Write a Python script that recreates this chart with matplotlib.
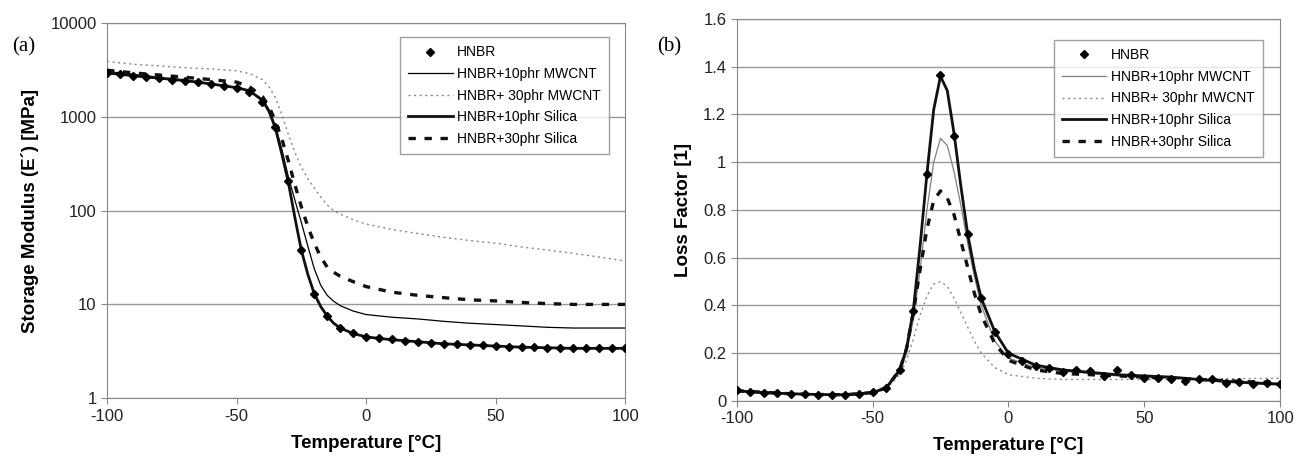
import numpy as np
import matplotlib
matplotlib.use('Agg')
import matplotlib.pyplot as plt
from matplotlib.ticker import FixedLocator, FixedFormatter

plt.rcParams['font.family'] = ['Liberation Sans', 'DejaVu Sans']
plt.rcParams['axes.unicode_minus'] = False

# temperature grids
t_marks = list(range(-100, 101, 5))
t_line = [-100, -90, -80, -70, -60, -50, -45, -40, -37.5, -35, -32.5, -30, -27.5, -25,
          -22.5, -20, -17.5, -15, -12.5, -10, -5, 0, 10, 20, 30, 40, 50, 60, 70, 80, 90, 100]

labels = ['HNBR', 'HNBR+10phr MWCNT', 'HNBR+ 30phr MWCNT', 'HNBR+10phr Silica', 'HNBR+30phr Silica']

# (a) storage modulus [MPa]
e_hnbr = [2950, 2850, 2750, 2650, 2580, 2500, 2420, 2350, 2250, 2150, 2050, 1850, 1450, 780,
          205, 38, 13, 7.5, 5.6, 4.9, 4.5, 4.4, 4.25, 4.1, 4.0, 3.9, 3.8, 3.75, 3.7, 3.7, 3.6,
          3.55, 3.5, 3.5, 3.4, 3.4, 3.4, 3.4, 3.4, 3.4, 3.4]
e_cnt10 = [2900, 2700, 2550, 2400, 2250, 2050, 1900, 1550, 1200, 800, 450, 230, 130, 75, 42, 24,
           16, 12.5, 10.8, 9.7, 8.5, 7.8, 7.3, 7.0, 6.6, 6.3, 6.1, 5.9, 5.7, 5.6, 5.6, 5.6]
e_cnt30 = [3900, 3650, 3500, 3350, 3250, 3100, 2900, 2500, 2100, 1600, 1050, 650, 420, 290, 220,
           175, 140, 115, 100, 92, 80, 72, 63, 57, 52, 48, 45, 41, 38, 35, 32, 29]
e_sil10 = [3000, 2800, 2600, 2450, 2250, 2050, 1900, 1500, 1150, 760, 400, 200, 85, 38, 21, 13,
           9.5, 7.5, 6.3, 5.6, 4.9, 4.5, 4.2, 4.0, 3.8, 3.7, 3.6, 3.5, 3.45, 3.4, 3.4, 3.4]
e_sil30 = [3150, 2950, 2800, 2650, 2500, 2350, 2100, 1650, 1300, 900, 580, 340, 190, 110, 68, 45,
           32, 25, 22, 20, 17.5, 15.5, 13.5, 12.5, 11.8, 11.2, 10.9, 10.5, 10.2, 10, 10, 10]

# (b) loss factor
d_hnbr = [0.046, 0.039, 0.035, 0.033, 0.03, 0.028, 0.026, 0.025, 0.025, 0.03, 0.038, 0.056,
          0.13, 0.377, 0.95, 1.367, 1.11, 0.70, 0.43, 0.29, 0.195, 0.167, 0.146, 0.14, 0.12,
          0.13, 0.125, 0.105, 0.13, 0.107, 0.098, 0.095, 0.094, 0.084, 0.09, 0.093, 0.077,
          0.08, 0.07, 0.074, 0.07]
d_cnt10 = [0.045, 0.038, 0.032, 0.028, 0.027, 0.035, 0.05, 0.12, 0.2, 0.34, 0.55, 0.80, 1.0,
           1.10, 1.07, 0.96, 0.82, 0.66, 0.52, 0.40, 0.25, 0.18, 0.14, 0.125, 0.115, 0.105,
           0.10, 0.095, 0.09, 0.085, 0.08, 0.075]
d_cnt30 = [0.045, 0.038, 0.032, 0.028, 0.027, 0.033, 0.05, 0.11, 0.17, 0.26, 0.36, 0.44, 0.49,
           0.50, 0.48, 0.43, 0.37, 0.31, 0.25, 0.20, 0.14, 0.11, 0.095, 0.09, 0.09, 0.09, 0.09,
           0.09, 0.092, 0.093, 0.094, 0.095]
d_sil10 = [0.042, 0.035, 0.03, 0.027, 0.026, 0.035, 0.055, 0.13, 0.22, 0.38, 0.65, 0.95, 1.22,
           1.36, 1.30, 1.12, 0.90, 0.70, 0.55, 0.43, 0.29, 0.20, 0.15, 0.13, 0.12, 0.11, 0.105,
           0.10, 0.09, 0.082, 0.075, 0.07]
d_sil30 = [0.043, 0.036, 0.03, 0.027, 0.026, 0.035, 0.055, 0.13, 0.22, 0.37, 0.55, 0.72, 0.84,
           0.88, 0.85, 0.78, 0.67, 0.56, 0.45, 0.36, 0.24, 0.17, 0.13, 0.115, 0.11, 0.105, 0.10,
           0.095, 0.09, 0.085, 0.08, 0.078]

fig = plt.figure(figsize=(12.97, 4.63), dpi=100)
ax1 = fig.add_axes([0.0825, 0.140, 0.3995, 0.810])
ax2 = fig.add_axes([0.568, 0.134, 0.419, 0.825])


def draw(ax, hnbr, cnt10, cnt30, sil10, sil30, cnt_col):
    ax.plot(t_line, cnt10, color=cnt_col, lw=0.9, label=labels[1], zorder=3)
    ax.plot(t_line, cnt30, color='#888888', lw=1.0, ls=(0, (1.5, 2.5)), label=labels[2], zorder=3)
    ax.plot(t_line, sil10, color='#111111', lw=2.0, label=labels[3], zorder=4)
    ax.plot(t_line, sil30, color='#111111', lw=2.4, ls=(0, (2.2, 2.6)), label=labels[4], zorder=4)
    ax.plot(t_marks, hnbr, ls='none', marker='D', ms=4.5, color='black', label=labels[0], zorder=5)
    ax.set_xlim(-100, 100)
    ax.set_xticks([-100, -50, 0, 50, 100])
    ax.grid(axis='y', color='#999999', lw=1.0)
    ax.set_axisbelow(True)
    for s in ax.spines.values():
        s.set_color('#888888')
    ax.tick_params(colors='#888888', labelcolor='#222222', labelsize=12, length=4)
    ax.set_xlabel('Temperature [°C]', fontsize=13.5, fontweight='bold', labelpad=8)
    h, l = ax.get_legend_handles_labels()
    order = [4, 0, 1, 2, 3]
    return [h[i] for i in order], [l[i] for i in order]


h, l = draw(ax1, e_hnbr, e_cnt10, e_cnt30, e_sil10, e_sil30, 'black')
ax1.set_yscale('log')
ax1.set_ylim(1, 10000)
ax1.yaxis.set_major_locator(FixedLocator([1, 10, 100, 1000, 10000]))
ax1.yaxis.set_major_formatter(FixedFormatter(['1', '10', '100', '1000', '10000']))
ax1.yaxis.set_minor_locator(FixedLocator([]))
ax1.set_ylabel('Storage Modulus (E´) [MPa]', fontsize=13.5, fontweight='bold', labelpad=8)
leg = ax1.legend(h, l, loc='upper left', bbox_to_anchor=(0.303, 0.935), bbox_transform=fig.transFigure,
                 fontsize=10, frameon=True, fancybox=False, handlelength=3.2, borderpad=0.6,
                 labelspacing=0.55, handletextpad=0.3)
leg.get_frame().set_edgecolor('#888888')
leg.get_frame().set_linewidth(1.0)

h, l = draw(ax2, d_hnbr, d_cnt10, d_cnt30, d_sil10, d_sil30, '#808080')
ax2.set_ylim(0, 1.6)
ax2.set_yticks([0, 0.2, 0.4, 0.6, 0.8, 1.0, 1.2, 1.4, 1.6])
ax2.set_yticklabels(['0', '0.2', '0.4', '0.6', '0.8', '1', '1.2', '1.4', '1.6'])
ax2.set_ylabel('Loss Factor [1]', fontsize=13.5, fontweight='bold', labelpad=8)
leg = ax2.legend(h, l, loc='upper left', bbox_to_anchor=(0.807, 0.929), bbox_transform=fig.transFigure,
                 fontsize=10, frameon=True, fancybox=False, handlelength=3.2, borderpad=0.6,
                 labelspacing=0.55, handletextpad=0.3)
leg.get_frame().set_edgecolor('#888888')
leg.get_frame().set_linewidth(1.0)

fig.text(0.009, 0.898, '(a)', fontsize=15, family='Liberation Serif', va='center')
fig.text(0.507, 0.898, '(b)', fontsize=15, family='Liberation Serif', va='center')

fig.savefig('out.png', dpi=100)
